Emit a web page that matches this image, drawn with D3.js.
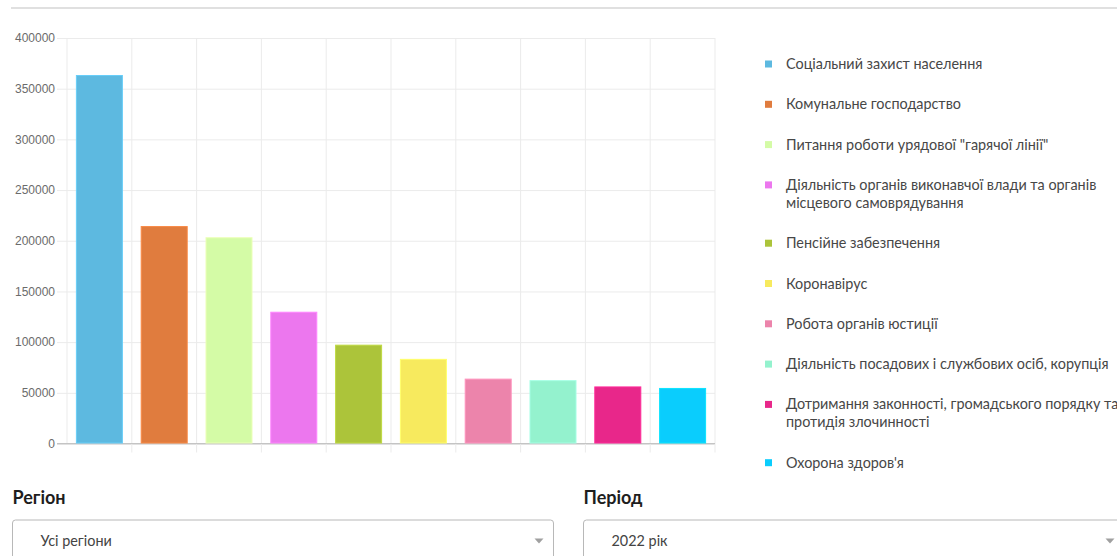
<!DOCTYPE html>
<html>
<head>
<meta charset="utf-8">
<script src="https://cdn.jsdelivr.net/npm/d3@7"></script>
<style>
	html, body { margin: 0; padding: 0; background: #fff; overflow: hidden; }
	svg { display: block; }
</style>
</head>
<body>
<svg id="bar-chart" width="1117" height="556"></svg>
<script>
	'use strict';

	// chart data
	var categories = [
		'Соціальний захист населення',
		'Комунальне господарство',
		'Питання роботи урядової "гарячої лінії"',
		'Діяльність органів виконавчої влади та органів місцевого самоврядування',
		'Пенсійне забезпечення',
		'Коронавірус',
		'Робота органів юстиції',
		'Діяльність посадових і службових осіб, корупція',
		'Дотримання законності, громадського порядку та протидія злочинності',
		'Охорона здоров\'я'
	];
	var counts = [363000, 214000, 203000, 129500, 97000, 83000, 63500, 62000, 55800, 54300];
	var colors = ['#5db9e0', '#e07c3e', '#d4fba6', '#ec77ee', '#acc43a', '#f7ea5e', '#ec84ab', '#94f2ce', '#e8278a', '#0acdfd'];
	var yTicks = [0, 50000, 100000, 150000, 200000, 250000, 300000, 350000, 400000];
	var filterLabels = ['Регіон', 'Період'];
	var filterValues = ['Усі регіони', '2022 рік'];

	var svg = d3.select('#bar-chart');

	var plot = {left: 67, right: 715, top: 38, bottom: 443.5};
	var plotWidth = plot.right - plot.left;

	// top separator
	svg.append('line')
		.attr('x1', 11).attr('x2', 1117)
		.attr('y1', 8).attr('y2', 8)
		.attr('stroke', '#e0e0e0')
		.attr('stroke-width', 2);

	var xScale = d3.scaleBand()
		.domain(categories)
		.range([plot.left, plot.right])
		.paddingInner(0.29)
		.paddingOuter(0.145);

	var yScale = d3.scaleLinear()
		.domain([0, 400000])
		.range([plot.bottom, plot.top]);

	var g = svg.append('g');

	// y axis + horizontal grid
	var yAxis = g.append('g')
		.attr('transform', 'translate(' + plot.left + ',0)')
		.call(d3.axisLeft(yScale).tickValues(yTicks).tickSizeInner(-plotWidth).tickSizeOuter(0).tickPadding(12).tickFormat(d3.format('d')));

	yAxis.select('.domain').remove();
	yAxis.selectAll('.tick line')
		.attr('x1', -10)
		.attr('stroke', function(d) { return d === 0 ? '#c4c4c4' : '#ebebeb'; });
	yAxis.selectAll('.tick text')
		.attr('fill', '#6b6b6b')
		.style('font-family', '"Liberation Sans", Arial, sans-serif')
		.style('font-size', '12px');

	// vertical grid at band edges
	var step = xScale.step();
	var edges = d3.range(categories.length + 1).map(function(i) { return plot.left + i * step; });
	g.append('g')
		.selectAll('line')
		.data(edges)
		.enter()
		.append('line')
		.attr('x1', function(d) { return d; })
		.attr('x2', function(d) { return d; })
		.attr('y1', plot.top)
		.attr('y2', function(d, i) { return i === 0 ? plot.bottom : plot.bottom + 9; })
		.attr('stroke', '#ebebeb');

	// redraw zero line on top of verticals
	g.append('line')
		.attr('x1', plot.left - 10).attr('x2', plot.right)
		.attr('y1', yScale(0)).attr('y2', yScale(0))
		.attr('stroke', '#c4c4c4');

	// bars
	g.append('g')
		.selectAll('rect')
		.data(counts)
		.enter()
		.append('rect')
		.attr('x', function(d, i) { return xScale(categories[i]); })
		.attr('y', function(d) { return yScale(d); })
		.attr('width', xScale.bandwidth())
		.attr('height', function(d) { return yScale(0) - yScale(d) - 0.5; })
		.attr('fill', function(d, i) { return colors[i]; })
		.attr('stroke', function(d, i) { return d3.color(colors[i]).brighter(0.3); })
		.attr('stroke-width', 1);

	// legend
	var legend = svg.append('g')
		.style('font-family', 'Lato, "Open Sans", sans-serif')
		.style('font-size', '14.4px');

	var maxLegendWidth = 340;
	var lineY = 69;
	categories.forEach(function(cat, i) {
		var item = legend.append('g');
		item.append('rect')
			.attr('x', 765)
			.attr('y', lineY - 8.5)
			.attr('width', 7)
			.attr('height', 7)
			.attr('fill', colors[i]);

		var text = item.append('text')
			.attr('x', 786)
			.attr('y', lineY)
			.attr('fill', '#474747');

		// wrap words
		var words = cat.split(' ');
		var line = [];
		var lines = 1;
		var tspan = text.append('tspan').attr('x', 786).attr('y', lineY);
		words.forEach(function(w) {
			line.push(w);
			tspan.text(line.join(' '));
			if (tspan.node().getComputedTextLength() > maxLegendWidth && line.length > 1) {
				line.pop();
				tspan.text(line.join(' '));
				line = [w];
				tspan = text.append('tspan')
					.attr('x', 786)
					.attr('y', lineY + 18 * lines)
					.text(w);
				lines++;
			}
		});
		lineY += 40.3 + 18 * (lines - 1);
	});

	// filter controls
	var boxLeft = [12.5, 583.5];
	var boxWidth = 541;
	filterLabels.forEach(function(label, i) {
		var x0 = boxLeft[i];
		svg.append('text')
			.attr('x', x0)
			.attr('y', 504)
			.attr('fill', '#1e1e1e')
			.style('font-family', 'Lato, sans-serif')
			.style('font-weight', 'bold')
			.style('font-size', '18px')
			.text(label);

		svg.append('rect')
			.attr('x', x0)
			.attr('y', 520)
			.attr('width', boxWidth)
			.attr('height', 60)
			.attr('rx', 3)
			.attr('fill', '#fff')
			.attr('stroke', '#b8b8b8');

		svg.append('text')
			.attr('x', x0 + 28)
			.attr('y', 546)
			.attr('fill', '#444')
			.style('font-family', 'Lato, sans-serif')
			.style('font-size', '14.4px')
			.text(filterValues[i]);

		var ax = x0 + boxWidth - 14.5;
		svg.append('path')
			.attr('d', 'M' + (ax - 4.5) + ',538.5 L' + (ax + 4.5) + ',538.5 L' + ax + ',543.5 Z')
			.attr('fill', '#a0a0a0');
	});
</script>
</body>
</html>
